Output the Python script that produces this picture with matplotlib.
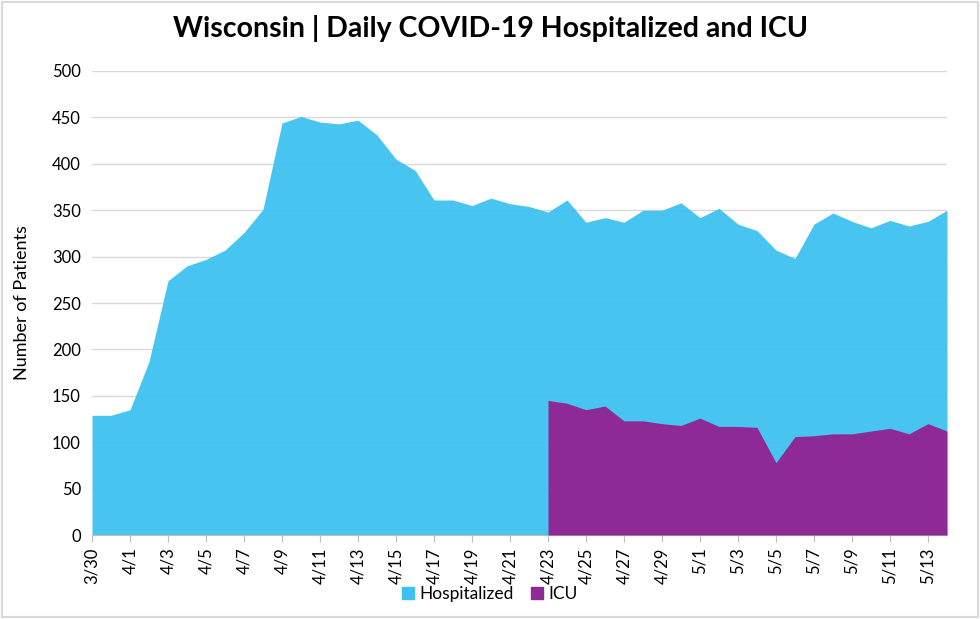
import numpy as np
import pandas as pd
import matplotlib
matplotlib.use("Agg")
import matplotlib.pyplot as plt
from matplotlib.patches import Patch, Rectangle

# daily counts, 3/30 -> 5/14
dates = pd.date_range("2020-03-30", "2020-05-14")
labels = [f"{d.month}/{d.day}" for d in dates]

hospitalized = [129, 129, 135, 187, 274, 290, 297, 307, 326, 351,
                444, 451, 445, 443, 447, 431, 405, 393, 361, 361,
                355, 363, 357, 354, 348, 361, 337, 342, 337, 350,
                350, 358, 342, 352, 335, 328, 307, 298, 335, 347,
                338, 331, 339, 333, 338, 350]

# ICU reporting starts 4/23
icu = [np.nan] * 24 + [145, 142, 135, 139, 123, 123, 120, 118, 126, 117,
                       117, 116, 78, 106, 107, 109, 109, 112, 115, 109,
                       120, 112]

blue = "#3EC1F1"
purple = "#8E2A96"

plt.rcParams["font.family"] = ["Lato", "DejaVu Sans"]

fig = plt.figure(figsize=(9.8, 6.19), dpi=100)
ax = fig.add_axes([0.0939, 0.1357, 0.8724, 0.7496])

x = np.arange(len(dates))
ax.fill_between(x, 0, hospitalized, color=blue, alpha=0.95, lw=0, zorder=2)
ax.fill_between(x, 0, icu, color=purple, lw=0, zorder=3)

ax.set_xlim(0, len(dates) - 1)
ax.set_ylim(0, 500)
ax.set_yticks(range(0, 501, 50))
ax.set_xticks(x[::2])
ax.set_xticklabels(labels[::2], rotation=90, fontsize=12)
ax.tick_params(axis="y", length=0, labelsize=12, pad=8)
ax.tick_params(axis="x", length=5, color="#BFBFBF", pad=4)
ax.grid(axis="y", color="#D9D9D9", lw=1, zorder=1)
ax.set_axisbelow(True)
for s in ["top", "right", "left"]:
    ax.spines[s].set_visible(False)
ax.spines["bottom"].set_color("#BFBFBF")

ax.set_ylabel("Number of Patients", fontsize=13, labelpad=16)
fig.suptitle("Wisconsin | Daily COVID-19 Hospitalized and ICU",
             fontsize=20.5, fontweight="bold", y=0.975)

handles = [Patch(color=blue, label="Hospitalized"), Patch(color=purple, label="ICU")]
fig.legend(handles=handles, loc="center", bbox_to_anchor=(0.5, 0.04), ncol=2,
           frameon=False, fontsize=12.5, handlelength=0.7, handleheight=0.7,
           handletextpad=0.3, columnspacing=1.0)

fig.patches.append(Rectangle((0.002, 0.003), 0.996, 0.994, transform=fig.transFigure,
                             fill=False, edgecolor="#D9D9D9", lw=1.5))

fig.savefig("out.png", dpi=100)
